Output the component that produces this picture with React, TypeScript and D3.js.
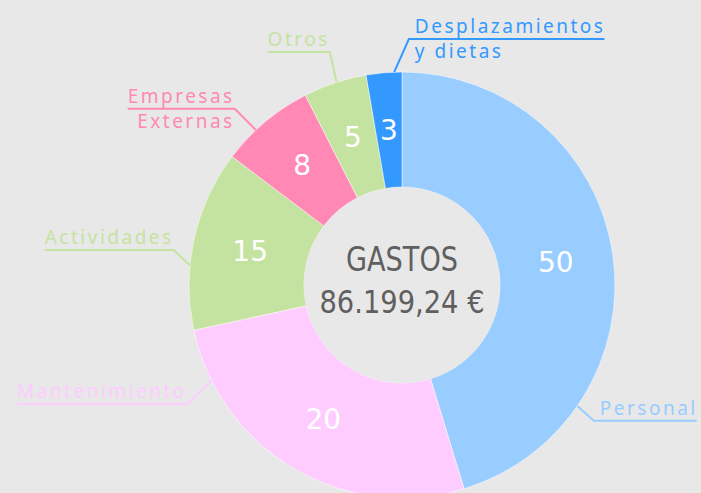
import React, {useEffect, useRef} from 'react';
import * as d3 from 'd3';

const W = 701;
const H = 493;

const categories = ['Personal', 'Mantenimiento', 'Actividades', 'Empresas Externas', 'Otros', 'Desplazamientos y dietas'];
// share of the ring each slice takes
const shares = [45.3, 26.3, 13.7, 7.2, 4.8, 2.7];
// the numbers printed on the slices
const shownValues = ['50', '20', '15', '8', '5', '3'];
const colors = ['#99ccff', '#ffccff', '#c5e3a0', '#ff88b4', '#c5e3a0', '#3399ff'];
const labelLines = [['Personal'], ['Mantenimiento'], ['Actividades'], ['Empresas', 'Externas'], ['Otros'], ['Desplazamientos', 'y dietas']];

const title = 'GASTOS';
const total = '86.199,24 €';

// leader lines: angle (deg, clockwise from top) where they leave the ring, elbow angle and radius
const callouts = [
  {start: 124.6, elbow: 125.3, r: 235},
  {start: 243.4, elbow: 241, r: 246},
  {start: 275.3, elbow: 278.7, r: 231},
  {start: 316.7, elbow: 316.5, r: 243},
  {start: 342.1, elbow: 342.8, r: 244},
  {start: 357.9, elbow: 1.6, r: 246},
];

const labelFont = '"Noto Sans", sans-serif';

export default function App() {
  const ref = useRef<SVGSVGElement>(null);

  useEffect(() => {
    const svg = d3.select(ref.current);
    svg.selectAll('*').remove();

    const cx = 402;
    const cy = 285;
    const outer = 213;
    const inner = 98;

    svg.append('rect').attr('width', W).attr('height', H).attr('fill', '#e8e8e8');

    const data = categories.map((c, i) => ({name: c, share: shares[i], shown: shownValues[i], color: colors[i], i}));
    const pie = d3.pie<any>().sort(null).value(d => d.share);
    const arc = d3.arc<any>().innerRadius(inner).outerRadius(outer);
    const arcs = pie(data);

    const g = svg.append('g').attr('transform', `translate(${cx},${cy})`);
    g.selectAll('path.slice')
      .data(arcs)
      .join('path')
      .attr('class', 'slice')
      .attr('d', arc)
      .attr('fill', d => d.data.color)
      .attr('stroke', '#ffffff')
      .attr('stroke-opacity', 0.6)
      .attr('stroke-width', 0.8);

    g.selectAll('text.val')
      .data(arcs)
      .join('text')
      .attr('class', 'val')
      .attr('x', d => arc.centroid(d)[0])
      .attr('y', d => arc.centroid(d)[1])
      .attr('text-anchor', 'middle')
      .attr('dominant-baseline', 'central')
      .attr('fill', '#ffffff')
      .attr('font-family', '"DejaVu Sans", sans-serif')
      .attr('font-size', 28)
      .text(d => d.data.shown);

    g.append('circle').attr('r', inner).attr('fill', '#e8e8e8');

    g.append('text')
      .attr('y', -14)
      .attr('text-anchor', 'middle')
      .attr('fill', '#5f5f5f')
      .attr('font-family', '"DejaVu Sans", sans-serif')
      .attr('font-size', 33)
      .attr('textLength', 112)
      .attr('lengthAdjust', 'spacingAndGlyphs')
      .text(title);
    g.append('text')
      .attr('y', 28)
      .attr('text-anchor', 'middle')
      .attr('fill', '#5f5f5f')
      .attr('font-family', '"DejaVu Sans", sans-serif')
      .attr('font-size', 32)
      .attr('textLength', 165)
      .attr('lengthAdjust', 'spacingAndGlyphs')
      .text(total);

    const pt = (deg: number, r: number) => {
      const a = (deg * Math.PI) / 180;
      return [cx + r * Math.sin(a), cy - r * Math.cos(a)];
    };

    data.forEach((d, i) => {
      const c = callouts[i];
      const [sx, sy] = pt(c.start, outer);
      const [ex, ey] = pt(c.elbow, c.r);
      const right = ex > cx;
      const lg = svg.append('g');

      const tx = right ? ex + 6 : ex;
      let maxW = 0;
      labelLines[i].forEach((line, j) => {
        const t = lg
          .append('text')
          .attr('x', tx)
          .attr('y', j === 0 ? ey - 6 : ey + 19)
          .attr('text-anchor', right ? 'start' : 'end')
          .attr('fill', d.color)
          .attr('font-family', labelFont)
          .attr('font-size', 19)
          .attr('letter-spacing', 2.5)
          .text(line);
        const w = (t.node() as SVGTextElement).getComputedTextLength();
        maxW = Math.max(maxW, w);
      });

      const endX = right ? tx + maxW - 1 : tx - maxW;
      lg.append('path')
        .attr('d', d3.line()([[sx, sy], [ex, ey], [endX, ey]]) as string)
        .attr('fill', 'none')
        .attr('stroke', d.color)
        .attr('stroke-width', 2);
    });
  }, []);

  return (
    <svg
      ref={ref}
      width={W}
      height={H}
      style={{position: 'absolute', left: 0, top: 0, display: 'block'}}
    />
  );
}
